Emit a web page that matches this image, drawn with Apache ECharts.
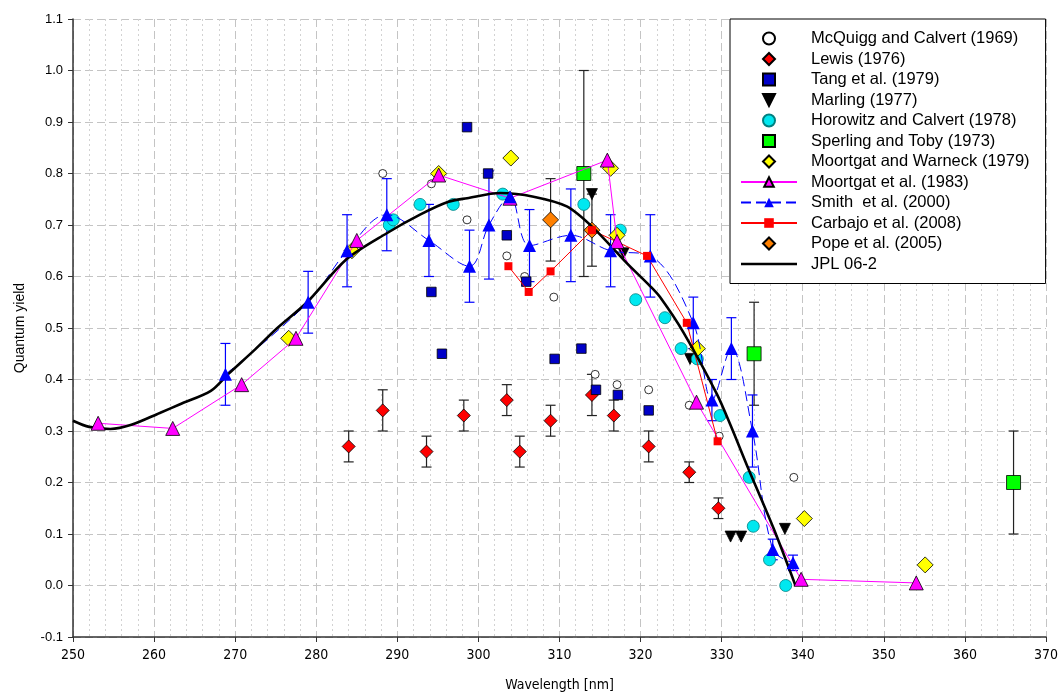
<!DOCTYPE html>
<html>
<head>
<meta charset="utf-8">
<script src="https://cdn.jsdelivr.net/npm/echarts@6/dist/echarts.min.js"></script>
<style>
html, body { margin: 0; padding: 0; background: #fff; }
#chart { width: 1061px; height: 697px; }
</style>
</head>
<body>
<div id="chart"></div>
<script>
// [wavelength, quantum yield]
const mcquigg = [[288.2,0.80],[294.2,0.78],[298.6,0.71],[303.5,0.64],[305.7,0.60],[309.3,0.56],[314.4,0.41],[317.1,0.39],[321.0,0.38],[326.0,0.35],[329.7,0.29],[338.9,0.21]];
// [wavelength, yield, error]
const lewis = [[284.0,0.27,0.03],[288.2,0.34,0.04],[293.6,0.26,0.03],[298.2,0.33,0.03],[303.5,0.36,0.03],[305.1,0.26,0.03],[308.9,0.32,0.03],[314.0,0.37,0.04],[316.7,0.33,0.03],[321.0,0.27,0.03],[326.0,0.22,0.02],[329.6,0.15,0.02]];
const tang = [[294.2,0.57],[295.5,0.45],[298.6,0.89],[301.2,0.80],[303.5,0.68],[305.9,0.59],[309.4,0.44],[312.7,0.46],[314.5,0.38],[317.2,0.37],[321.0,0.34]];
const marling = [[314.0,0.76],[317.9,0.645],[326.1,0.44],[331.1,0.095],[332.4,0.095],[337.8,0.11]];
const horowitz = [[289.0,0.70],[289.5,0.71],[292.8,0.74],[296.9,0.74],[303.0,0.76],[313.0,0.74],[317.5,0.69],[319.4,0.555],[323.0,0.52],[325.0,0.46],[327.0,0.44],[329.8,0.33],[333.4,0.21],[333.9,0.115],[335.9,0.05],[337.9,0.0]];
const sperling = [[313.0,0.80,0.20],[334.0,0.45,0.10],[366.0,0.20,0.10]];
const warneck = [[276.6,0.48],[284.4,0.65],[295.1,0.80],[304.0,0.83],[316.3,0.81],[317.1,0.68],[327.0,0.46],[340.2,0.13],[355.1,0.04]];
const moortgat83 = [[253.1,0.315],[262.3,0.305],[270.8,0.39],[277.5,0.48],[285.0,0.67],[295.1,0.797],[303.9,0.752],[315.9,0.826],[317.1,0.668],[326.9,0.356],[339.8,0.012],[354.0,0.005]];
const smith = [[268.8,0.41,0.06],[279.0,0.55,0.06],[283.8,0.65,0.07],[288.7,0.72,0.07],[293.9,0.67,0.07],[298.9,0.62,0.07],[301.3,0.70,0.105],[303.9,0.755,0],[306.3,0.66,0.07],[311.4,0.68,0.09],[316.3,0.65,0.07],[321.2,0.64,0.08],[326.5,0.51,0.05],[328.8,0.36,0.04],[331.2,0.46,0.06],[333.8,0.30,0.07],[336.3,0.07,0.02],[338.8,0.044,0.015]];
const carbajo = [[303.7,0.62],[306.2,0.57],[308.9,0.61],[314.0,0.69],[320.8,0.64],[325.7,0.51],[329.5,0.28]];
const pope = [[308.9,0.71,0.08],[314.0,0.69,0.07]];
const jpl = [[250,0.32],[252,0.308],[254.6,0.304],[257.2,0.312],[260.7,0.335],[263.2,0.352],[267,0.378],[269.1,0.41],[272.5,0.459],[275.2,0.50],[278.8,0.549],[283.7,0.633],[288.7,0.684],[292.8,0.72],[296.3,0.745],[298.6,0.752],[302.7,0.762],[306.8,0.755],[310.9,0.736],[314.2,0.694],[318.3,0.626],[321.2,0.581],[322.4,0.56],[325.3,0.491],[329.4,0.372],[331.1,0.311],[333.1,0.234],[336.4,0.111],[339.1,0.0]];

const legendNames = ['McQuigg and Calvert (1969)','Lewis (1976)','Tang et al. (1979)','Marling (1977)',
  'Horowitz and Calvert (1978)','Sperling and Toby (1973)','Moortgat and Warneck (1979)',
  'Moortgat et al. (1983)','Smith  et al. (2000)','Carbajo et al. (2008)','Pope et al. (2005)','JPL 06-2'];

// path symbols keep their aspect in the legend too
const downTriangle = 'path://M0,0L10,0L5,10Z';
const diamond = 'path://M5,0L10,5L5,10L0,5Z';
const square = 'path://M0,0L10,0L10,10L0,10Z';
const plainLine = 'path://M0,0L56,0L56,2.6L0,2.6Z';
const xy = d => d.map(p => [p[0], p[1]]);

function errorBars(rows, color, cap) {
  return {
    type: 'custom',
    name: 'err',
    silent: true,
    renderItem: function (params, api) {
      const x = api.value(0);
      const top = api.coord([x, api.value(2)]);
      const bot = api.coord([x, api.value(1)]);
      const s = { stroke: color, lineWidth: 1.2 };
      return {
        type: 'group',
        children: [
          { type: 'line', shape: { x1: top[0], y1: top[1], x2: bot[0], y2: bot[1] }, style: s },
          { type: 'line', shape: { x1: top[0] - cap, y1: top[1], x2: top[0] + cap, y2: top[1] }, style: s },
          { type: 'line', shape: { x1: bot[0] - cap, y1: bot[1], x2: bot[0] + cap, y2: bot[1] }, style: s }
        ]
      };
    },
    encode: { x: 0, y: [1, 2] },
    data: rows.filter(r => r[2] > 0).map(r => [r[0], r[1] - r[2], r[1] + r[2]])
  };
}

function scatter(name, data, symbol, size, color, border) {
  return {
    type: 'scatter', name: name, data: data, symbol: symbol, symbolSize: size,
    symbolKeepAspect: true,
    itemStyle: { color: color, borderColor: border || '#000', borderWidth: 0.8, opacity: 1 }
  };
}

const chart = echarts.init(document.getElementById('chart'));

chart.setOption({
  animation: false,
  backgroundColor: '#fff',
  grid: { left: 73, right: 15, top: 19, bottom: 58, show: false },
  legend: {
    data: legendNames.map(n => n === 'JPL 06-2' ? { name: n, icon: plainLine } : n),
    orient: 'vertical',
    left: 730, top: 19,
    padding: [11, 16, 11, 10],
    itemWidth: 56, itemHeight: 12, itemGap: 3.5,
    symbolKeepAspect: true,
    backgroundColor: '#fff',
    borderColor: '#000', borderWidth: 1,
    textStyle: { fontFamily: 'Liberation Sans', fontSize: 16.5, lineHeight: 16.5, color: '#000', padding: [0, 0, 0, 9] },
    z: 20
  },
  xAxis: {
    type: 'value', min: 250, max: 370, interval: 10,
    name: 'Wavelength [nm]', nameLocation: 'middle', nameGap: 41,
    nameTextStyle: { fontFamily: '"DejaVu Sans Condensed", "Liberation Sans", sans-serif', fontSize: 14, color: '#000' },
    axisLine: { show: true, onZero: false, lineStyle: { color: '#333', width: 1.5 } },
    axisTick: { show: true, length: 5, lineStyle: { color: '#333' } },
    axisLabel: { fontFamily: '"DejaVu Sans Condensed", "Liberation Sans", sans-serif', fontSize: 14, color: '#000', margin: 11 },
    splitLine: { show: true, lineStyle: { color: '#c4c4c4', type: [8, 4], width: 1 } },
    minorTick: { show: false, splitNumber: 5 },
    minorSplitLine: { show: true, lineStyle: { color: '#d2d2d2', type: [2, 3], width: 1 } }
  },
  yAxis: {
    type: 'value', min: -0.1, max: 1.1, interval: 0.1,
    name: 'Quantum yield', nameLocation: 'middle', nameGap: 46, nameRotate: 90,
    nameTextStyle: { fontFamily: 'Liberation Sans', fontSize: 14, color: '#000' },
    axisLine: { show: true, onZero: false, lineStyle: { color: '#333', width: 1.5 } },
    axisTick: { show: true, length: 5, lineStyle: { color: '#333' } },
    axisLabel: {
      fontFamily: 'Liberation Sans', fontSize: 13, color: '#000', margin: 10,
      formatter: v => (Math.abs(v) < 1e-9 ? 0 : v).toFixed(1)
    },
    splitLine: { show: true, lineStyle: { color: '#c4c4c4', type: [8, 4], width: 1 } }
  },
  series: [
    errorBars(lewis, '#222', 5),
    errorBars(sperling, '#222', 5),
    errorBars(pope, '#222', 5),
    errorBars(smith, '#0000ff', 5),
    scatter('McQuigg and Calvert (1969)', mcquigg, 'circle', 8, '#fff'),
    scatter('Lewis (1976)', xy(lewis), diamond, 13, '#ff0000'),
    scatter('Tang et al. (1979)', tang, square, 9.5, '#0000c8'),
    scatter('Marling (1977)', marling, downTriangle, 11, '#000'),
    scatter('Horowitz and Calvert (1978)', horowitz, 'circle', 12, '#00e8f0', '#008080'),
    scatter('Sperling and Toby (1973)', xy(sperling), square, 14, '#00ff00'),
    scatter('Moortgat and Warneck (1979)', warneck, diamond, 16, '#ffff00'),
    {
      type: 'line', name: 'Moortgat et al. (1983)', data: moortgat83,
      symbol: 'triangle', symbolSize: 14, showSymbol: true, showAllSymbol: true,
      itemStyle: { color: '#ff00ff', borderColor: '#000', borderWidth: 0.8 },
      lineStyle: { color: '#ff00ff', width: 1 }
    },
    {
      type: 'line', name: 'Smith  et al. (2000)', data: xy(smith), smooth: 0.35,
      symbol: 'triangle', symbolSize: 13, showSymbol: true, showAllSymbol: true,
      itemStyle: { color: '#0000ff' },
      lineStyle: { color: '#0000ff', width: 1, type: [10, 5] }
    },
    {
      type: 'line', name: 'Carbajo et al. (2008)', data: carbajo,
      symbol: 'rect', symbolSize: 8, showSymbol: true, showAllSymbol: true,
      itemStyle: { color: '#ff0000' },
      lineStyle: { color: '#ff0000', width: 1 }
    },
    scatter('Pope et al. (2005)', xy(pope), diamond, 16, '#ff8000'),
    {
      type: 'line', name: 'JPL 06-2', data: jpl, smooth: 0.3,
      symbol: 'none',
      itemStyle: { color: '#000' },
      lineStyle: { color: '#000', width: 2.6 }
    }
  ]
});
</script>
</body>
</html>
